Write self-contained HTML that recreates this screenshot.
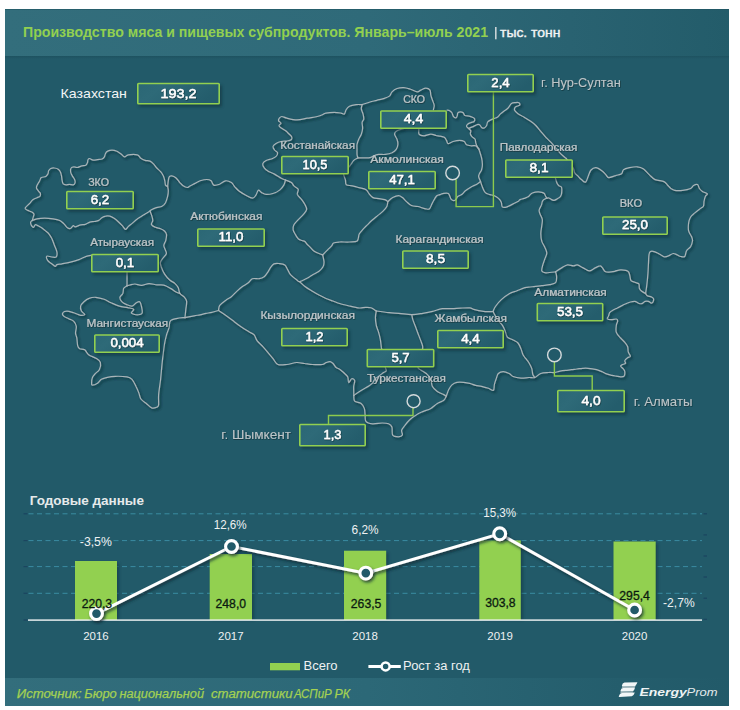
<!DOCTYPE html>
<html><head><meta charset="utf-8"><style>
html,body{margin:0;padding:0;background:#fff;width:740px;height:710px;overflow:hidden}
svg text{font-family:"Liberation Sans", sans-serif}
</style></head><body>
<svg width="740" height="710" viewBox="0 0 740 710" style="position:absolute;left:0;top:0">
<defs>
<linearGradient id="tband" x1="0" y1="0" x2="1" y2="0">
 <stop offset="0" stop-color="#336e7c"/><stop offset="0.5" stop-color="#2f6a79"/><stop offset="0.78" stop-color="#296271"/><stop offset="1" stop-color="#235c6a"/>
</linearGradient>
<linearGradient id="fband" x1="0" y1="0" x2="1" y2="0">
 <stop offset="0" stop-color="#336e7c"/><stop offset="0.5" stop-color="#2c6877"/><stop offset="0.85" stop-color="#245d6c"/><stop offset="1" stop-color="#225a69"/>
</linearGradient>
<linearGradient id="bsh" x1="0" y1="0" x2="0" y2="1"><stop offset="0" stop-color="#1a4c59" stop-opacity="0.55"/><stop offset="1" stop-color="#1a4c59" stop-opacity="0"/></linearGradient>
<linearGradient id="boxg" x1="0" y1="0" x2="1" y2="0.3">
 <stop offset="0" stop-color="#2b6775"/><stop offset="0.3" stop-color="#2e6a78"/><stop offset="1" stop-color="#245d6c"/>
</linearGradient>
<filter id="blur" x="-20%" y="-50%" width="140%" height="200%"><feGaussianBlur stdDeviation="1.5"/></filter>
<filter id="tsh" x="-10%" y="-30%" width="120%" height="160%"><feDropShadow dx="0.6" dy="0.8" stdDeviation="0.4" flood-color="#0a2a33" flood-opacity="0.8"/></filter>
<filter id="msh" x="-5%" y="-5%" width="110%" height="110%"><feDropShadow dx="1.6" dy="1.8" stdDeviation="1.3" flood-color="#0a2730" flood-opacity="0.9"/></filter>
<filter id="lsh" x="-5%" y="-5%" width="110%" height="110%"><feDropShadow dx="1.5" dy="2" stdDeviation="1.5" flood-color="#0a2730" flood-opacity="0.8"/></filter>
</defs>
<rect x="0" y="0" width="740" height="710" fill="#ffffff"/>
<rect x="5" y="9" width="724" height="697" fill="#225a69"/>
<rect x="5" y="56" width="724" height="3" fill="url(#bsh)"/>
<rect x="5" y="9" width="724" height="47" fill="url(#tband)"/>
<rect x="5" y="9" width="724" height="1" fill="#1f5563" opacity="0.6"/>
<rect x="5" y="678" width="724" height="28" fill="url(#fband)"/>
<g font-family='"Liberation Sans", sans-serif'>
<text x="23" y="37" font-size="14.5" fill="#92d050" text-anchor="start" font-weight="bold" font-style="normal" textLength="465" lengthAdjust="spacingAndGlyphs">Производство мяса и пищевых субпродуктов. Январь–июль 2021</text>
<rect x="495" y="27" width="1.6" height="12.3" fill="#c9d3d6"/>
<text x="500" y="37.1" font-size="13.4" fill="#f2f4f5" text-anchor="start" font-weight="normal" font-style="normal" textLength="60.5" lengthAdjust="spacingAndGlyphs" stroke="#f2f4f5" stroke-width="0.4">тыс. тонн</text>
<g id="map" fill="none" stroke="#a8b4b8" stroke-width="1.2" stroke-linejoin="round" stroke-linecap="round" filter="url(#msh)">
<path d="M167.6,186.5 C167.2,186.3 166.0,186.0 165.5,185.1 C165.0,184.2 165.2,182.3 164.8,180.8 C164.5,179.3 164.1,177.4 163.4,175.9 C162.7,174.4 161.8,173.1 160.6,171.7 C159.4,170.3 157.5,168.8 156.3,167.5 C155.1,166.2 154.6,165.0 153.5,163.9 C152.4,162.8 151.4,161.7 150.0,161.1 C148.6,160.5 146.6,160.9 145.1,160.4 C143.6,159.9 142.1,159.2 140.8,158.3 C139.5,157.4 139.4,155.4 137.3,154.8 C135.2,154.2 130.3,154.5 128.2,154.8 C126.1,155.2 125.8,157.0 124.6,156.9 C123.4,156.8 122.4,155.0 121.1,154.1 C119.8,153.2 118.4,152.0 116.9,151.3 C115.4,150.6 113.5,150.1 112.0,150.1 C110.5,150.1 108.8,150.5 107.7,151.1 C106.6,151.7 106.0,152.4 105.5,153.4 C105.0,154.4 105.0,155.9 104.4,156.8 C103.8,157.7 103.2,158.5 102.1,159.0 C101.0,159.5 99.1,159.4 97.6,159.6 C96.1,159.8 94.4,160.3 93.1,160.1 C91.8,159.9 90.5,158.6 89.7,158.5 C88.9,158.4 88.4,158.9 88.0,159.6 C87.6,160.2 87.9,161.5 87.5,162.4 C87.1,163.3 86.8,164.6 85.8,165.2 C84.8,165.8 83.2,165.4 81.8,165.8 C80.4,166.2 78.6,167.3 77.3,167.5 C76.0,167.7 74.9,166.8 73.9,166.9 C72.9,167.0 71.6,167.2 71.1,168.0 C70.5,168.8 70.4,170.7 70.6,172.0 C70.8,173.3 71.6,174.7 72.3,175.9 C73.0,177.1 74.0,178.2 74.5,179.3 C75.0,180.4 75.3,181.8 75.1,182.7 C74.9,183.6 74.4,184.6 73.4,184.9 C72.5,185.2 70.6,184.4 69.4,184.4 C68.2,184.4 67.1,185.0 66.1,184.9 C65.1,184.8 63.9,184.6 63.2,183.8 C62.5,183.1 62.4,181.7 62.1,180.4 C61.8,179.1 61.8,177.3 61.5,175.9 C61.2,174.5 60.9,173.1 60.4,172.0 C59.9,170.9 59.2,169.9 58.2,169.2 C57.2,168.5 55.4,168.1 54.2,168.0 C53.0,167.9 51.7,168.1 50.8,168.6 C49.9,169.1 49.1,170.0 48.6,170.8 C48.1,171.7 48.5,172.8 48.0,173.7 C47.5,174.6 46.9,175.8 45.8,176.5 C44.7,177.2 42.3,176.8 41.3,177.6 C40.3,178.3 40.2,180.0 39.6,181.0 C39.0,182.0 38.4,182.9 37.9,183.8 C37.4,184.7 36.8,185.7 36.6,186.5 C36.4,187.3 36.2,187.6 36.6,188.4 C37.0,189.2 38.1,190.5 38.7,191.3 C39.3,192.2 40.2,192.7 40.4,193.5 C40.6,194.3 40.5,195.7 39.9,196.4 C39.3,197.1 38.2,197.1 37.0,197.7 C35.8,198.3 34.1,198.8 32.8,199.8 C31.5,200.8 30.7,202.2 29.4,203.6 C28.1,205.0 25.4,207.1 25.1,208.2 C24.8,209.3 26.6,209.8 27.7,210.4 C28.8,211.0 30.8,211.4 31.9,212.0 C32.9,212.6 33.8,213.3 34.0,214.2 C34.2,215.0 33.5,216.0 33.2,217.1 C32.9,218.2 32.4,219.9 32.3,220.5"/>
<path d="M32.3,220.5 C33.1,220.2 35.0,219.2 37.0,218.8 C39.0,218.4 41.9,218.1 44.6,218.1 C47.3,218.1 50.5,218.4 53.0,218.8 C55.5,219.2 58.0,219.7 59.8,220.5 C61.6,221.3 62.7,222.7 64.0,223.9 C65.3,225.1 66.3,226.9 67.4,227.7 C68.5,228.5 69.4,228.8 70.4,228.5 C71.4,228.2 72.5,225.9 73.3,225.6 C74.1,225.3 73.9,226.9 75.1,226.8 C76.3,226.7 79.0,225.3 80.7,224.9 C82.4,224.5 83.7,224.9 85.2,224.4 C86.7,223.9 88.2,222.6 89.7,222.1 C91.2,221.6 92.7,221.8 94.2,221.5 C95.7,221.2 97.4,221.1 98.7,220.4 C100.0,219.8 100.9,218.3 102.1,217.6 C103.2,216.9 104.3,216.3 105.6,216.1 C106.9,215.8 108.5,215.8 109.9,216.1 C111.3,216.4 112.7,217.3 114.1,218.2 C115.5,219.1 116.9,220.4 118.3,221.7 C119.7,223.0 121.3,224.6 122.5,225.9 C123.7,227.2 124.5,229.3 125.4,229.4 C126.4,229.5 127.0,227.7 128.2,226.6 C129.4,225.5 130.9,224.4 132.4,223.1 C133.9,221.8 135.9,219.9 137.3,218.9 C138.7,217.9 139.5,217.6 140.8,216.8 C142.1,216.0 143.6,214.9 145.1,213.9 C146.6,212.9 149.2,211.6 150.0,211.1"/>
<path d="M167.6,186.5 C167.7,187.2 168.3,189.1 168.3,190.7 C168.3,192.3 168.1,194.3 167.6,196.3 C167.1,198.3 166.4,201.0 165.5,202.7 C164.6,204.3 163.5,205.4 162.0,206.2 C160.5,207.0 158.1,207.0 156.3,207.6 C154.5,208.2 152.5,209.1 151.4,209.7 C150.3,210.3 150.2,210.9 150.0,211.1"/>
<path d="M167.6,186.5 C167.8,185.0 168.3,179.1 169.0,177.3 C169.7,175.5 170.6,175.8 171.8,175.9 C173.0,176.0 174.8,176.9 176.1,178.0 C177.4,179.1 178.4,181.0 179.6,182.3 C180.8,183.6 181.8,184.9 183.1,185.8 C184.4,186.7 186.2,187.5 187.3,187.5 C188.5,187.5 188.7,186.7 190.0,186.0 C191.3,185.3 193.4,184.3 195.1,183.4 C196.8,182.5 198.1,181.5 200.1,180.8 C202.1,180.2 205.1,179.5 206.9,179.5 C208.7,179.5 210.0,179.9 211.1,180.8 C212.2,181.7 212.3,184.5 213.7,185.1 C215.1,185.7 217.6,184.9 219.6,184.2 C221.6,183.5 223.5,181.1 225.5,180.8 C227.5,180.5 229.8,181.5 231.4,182.5 C233.0,183.5 233.5,185.4 234.8,186.8 C236.1,188.2 237.2,189.6 239.0,191.0 C240.8,192.4 243.6,194.0 245.8,195.2 C248.1,196.4 250.8,198.1 252.5,198.1 C254.2,198.1 254.9,196.5 255.9,195.2 C256.9,193.9 257.4,190.5 258.4,190.1 C259.4,189.7 260.5,192.0 261.8,192.7 C263.1,193.4 264.3,194.3 266.1,194.4 C267.9,194.5 270.6,194.2 272.8,193.5 C275.1,192.8 277.8,191.5 279.6,190.1 C281.4,188.7 282.8,186.8 283.8,185.1 C284.8,183.4 285.2,180.8 285.5,180.0"/>
<path d="M32.3,220.5 C32.0,220.8 30.7,221.3 30.6,222.2 C30.5,223.0 31.0,224.8 31.5,225.6 C32.0,226.4 33.0,227.5 33.6,227.3 C34.2,227.2 34.6,225.0 35.3,224.7 C36.0,224.4 36.7,225.0 37.8,225.6 C38.9,226.2 40.6,227.1 42.0,228.1 C43.4,229.1 45.2,230.6 46.3,231.5 C47.4,232.4 47.6,232.2 48.5,233.4 C49.4,234.6 50.8,236.5 51.8,238.5 C52.8,240.5 53.5,242.9 54.4,245.2 C55.2,247.4 56.6,250.0 56.9,252.0 C57.2,254.0 57.0,256.2 56.1,257.0 C55.2,257.8 53.3,257.1 51.8,257.0 C50.2,256.9 47.5,255.6 46.8,256.2 C46.1,256.8 46.8,259.1 47.6,260.4 C48.4,261.7 50.5,262.8 51.8,263.8 C53.1,264.8 54.4,266.2 55.2,266.3 C56.1,266.4 55.8,265.0 56.9,264.6 C58.0,264.2 59.8,264.2 62.0,263.8 C64.2,263.4 67.6,262.8 70.4,262.1 C73.2,261.4 75.5,260.7 78.9,259.6 C82.3,258.5 85.5,255.7 90.7,255.4 C95.9,255.1 104.0,256.6 110.0,258.0 C116.0,259.4 124.2,261.6 127.0,264.0 C129.8,266.4 127.0,268.7 127.0,272.3 C127.0,275.9 127.0,283.6 127.0,285.8"/>
<path d="M127.0,285.8 C127.5,285.7 128.7,285.3 130.0,285.0 C131.3,284.7 133.1,283.9 135.0,284.0 C136.9,284.1 139.3,285.5 141.6,285.4 C143.9,285.3 146.4,283.7 149.0,283.6 C151.6,283.5 154.5,284.6 157.0,284.8 C159.5,285.1 161.5,284.5 163.8,285.1 C166.1,285.7 168.6,287.3 170.6,288.4 C172.6,289.5 174.0,290.9 175.6,291.8 C177.2,292.7 179.2,293.2 179.9,293.5"/>
<path d="M127.0,285.8 C126.5,286.2 124.4,287.0 123.7,288.3 C123.0,289.6 123.5,291.8 122.8,293.4 C122.1,294.9 119.9,296.2 119.8,297.6 C119.7,299.0 120.9,300.7 122.0,301.8 C123.1,302.9 124.5,303.7 126.2,304.4 C127.9,305.1 130.4,306.4 132.1,306.1 C133.8,305.8 135.0,303.4 136.3,302.7 C137.6,302.0 138.8,301.2 139.7,301.8 C140.5,302.4 141.0,304.3 141.4,306.1 C141.8,307.9 142.5,311.4 142.2,312.8 C141.9,314.2 141.0,314.2 139.7,314.5 C138.4,314.8 136.0,314.8 134.6,314.5 C133.2,314.2 131.4,313.7 131.3,312.8 C131.2,311.9 134.4,310.2 133.8,309.4 C133.2,308.5 130.3,308.2 127.9,307.7 C125.5,307.1 122.2,306.9 119.4,306.1 C116.6,305.3 113.5,303.8 111.0,302.7 C108.5,301.6 106.7,300.2 104.2,299.3 C101.7,298.4 98.3,297.5 95.8,297.3 C93.3,297.1 91.0,297.6 89.0,298.4 C87.0,299.1 85.3,300.5 83.9,301.8 C82.5,303.1 81.0,304.6 80.6,306.1 C80.2,307.7 80.7,309.7 81.4,311.1 C82.1,312.5 84.9,313.8 84.8,314.5 C84.7,315.2 82.4,315.6 80.6,315.3 C78.8,315.0 76.1,313.5 73.8,312.8 C71.5,312.1 68.8,311.1 67.0,311.1 C65.2,311.1 63.3,312.0 62.8,312.8 C62.2,313.6 62.7,315.2 63.7,316.2 C64.7,317.2 67.0,317.8 68.7,318.7 C70.4,319.6 72.5,320.0 73.8,321.3 C75.1,322.6 76.0,324.3 76.3,326.3 C76.6,328.3 75.4,331.2 75.5,333.1 C75.6,335.0 76.4,335.8 76.8,337.9 C77.2,340.0 77.2,344.0 77.7,345.8 C78.2,347.6 78.5,348.1 79.7,348.7 C80.9,349.3 83.2,348.7 84.7,349.7 C86.2,350.7 86.6,353.2 88.6,354.7 C90.6,356.2 94.5,357.3 96.5,358.6 C98.5,359.9 99.9,360.7 100.4,362.5 C100.9,364.3 100.2,367.6 99.4,369.4 C98.6,371.2 96.7,372.1 95.5,373.4 C94.3,374.7 93.2,375.7 92.5,377.3 C91.8,378.9 91.6,381.9 91.6,383.2 C91.6,384.5 91.5,385.2 92.5,385.2 C93.5,385.2 96.0,384.2 97.5,383.2 C99.0,382.2 99.8,380.3 101.4,379.3 C103.0,378.3 105.0,377.8 107.3,377.3 C109.6,376.8 111.9,376.4 115.2,376.3 C118.5,376.2 124.2,376.4 127.0,376.9 C129.8,377.4 130.5,377.8 132.0,379.3 C133.5,380.9 134.8,383.9 135.9,386.2 C137.1,388.5 138.1,391.0 138.9,393.1 C139.7,395.2 139.6,397.2 140.9,399.0 C142.2,400.8 145.0,402.5 146.8,404.0 C148.6,405.5 150.1,407.3 151.7,407.9 C153.3,408.4 155.4,407.8 156.6,407.3 C157.8,406.8 158.3,406.9 158.6,404.9 C158.9,402.9 158.3,399.4 158.6,395.1 C158.9,390.8 159.9,385.2 160.6,379.3 C161.2,373.4 161.8,365.5 162.5,359.6 C163.2,353.7 163.8,347.9 164.5,343.8 C165.2,339.7 165.8,337.6 166.5,335.0 C167.2,332.4 168.2,330.6 168.9,328.2 C169.6,325.8 168.9,322.3 170.6,320.6 C172.3,318.9 176.6,318.5 179.0,318.0 C181.4,317.5 183.9,317.8 184.9,317.7"/>
<path d="M150.0,211.1 C150.2,211.7 150.9,213.1 151.4,214.6 C151.9,216.1 152.8,218.7 152.8,220.3 C152.8,222.0 151.0,223.3 151.4,224.5 C151.8,225.7 154.0,226.6 155.5,227.3 C157.0,228.0 159.1,228.1 160.6,228.7 C162.1,229.3 163.5,230.0 164.5,231.0 C165.5,232.0 166.3,232.9 166.5,234.5 C166.7,236.1 166.2,238.5 165.8,240.3 C165.4,242.1 163.9,243.7 163.8,245.4 C163.8,247.1 165.1,249.0 165.5,250.4 C165.9,251.8 166.7,252.5 166.3,253.8 C165.9,255.1 164.0,256.6 163.0,258.0 C162.0,259.4 160.7,260.8 160.4,262.3 C160.1,263.9 160.6,265.3 161.3,267.3 C162.0,269.3 163.2,272.0 164.6,274.1 C166.0,276.2 168.0,278.4 169.7,280.0 C171.4,281.6 173.4,282.1 174.8,283.4 C176.2,284.7 177.3,285.9 178.2,287.6 C179.0,289.3 178.9,291.9 179.9,293.5 C180.9,295.1 183.0,295.6 184.1,296.9 C185.2,298.2 186.3,299.0 186.6,301.1 C186.9,303.2 186.1,306.8 185.8,309.6 C185.5,312.4 185.1,316.4 184.9,317.7"/>
<path d="M184.9,317.7 C186.4,317.4 191.7,316.3 194.2,315.8 C196.7,315.3 198.0,315.2 200.0,314.8 C202.0,314.4 204.0,313.8 206.0,313.4 C208.0,313.0 209.7,312.8 211.8,312.3 C213.9,311.8 217.4,310.8 218.5,310.5"/>
<path d="M218.5,310.5 C219.7,311.3 223.1,313.4 225.6,315.2 C228.1,317.0 230.9,319.1 233.5,321.1 C236.1,323.1 238.8,325.2 241.4,327.0 C244.0,328.8 247.2,330.7 249.3,332.0 C251.4,333.3 252.9,333.4 254.2,334.9 C255.5,336.4 255.7,338.9 257.2,340.9 C258.7,342.9 261.3,344.8 263.1,346.8 C264.9,348.8 266.4,350.7 268.0,352.7 C269.6,354.7 271.4,356.6 273.0,358.6 C274.6,360.6 275.6,363.5 277.9,364.5 C280.2,365.5 283.7,364.8 286.8,364.5 C289.9,364.2 293.7,362.7 296.6,362.5 C299.6,362.3 301.9,363.2 304.5,363.5 C307.1,363.8 309.4,364.3 312.4,364.5 C315.4,364.7 320.0,364.8 322.3,364.5 C324.6,364.2 324.9,363.0 326.2,362.5 C327.5,362.0 329.0,361.4 330.2,361.6 C331.4,361.8 332.1,362.5 333.1,363.5 C334.1,364.5 335.0,366.5 336.1,367.5 C337.2,368.5 338.7,368.5 340.0,369.4 C341.3,370.3 342.5,371.6 343.8,372.8 C345.1,374.0 346.9,375.2 347.7,376.8 C348.5,378.4 348.0,382.4 348.7,382.7 C349.4,383.0 350.7,379.0 351.7,378.7 C352.7,378.4 354.4,379.4 354.7,380.7 C355.0,382.0 353.8,384.2 353.7,386.6 C353.6,389.1 353.8,393.9 353.8,395.4"/>
<path d="M353.8,395.4 C353.9,396.3 353.4,399.8 354.6,401.1 C355.8,402.5 359.5,402.3 361.1,403.5 C362.7,404.7 363.6,406.5 364.3,408.4 C365.0,410.3 364.8,412.8 365.1,414.9 C365.4,417.0 364.7,419.8 365.9,421.3 C367.1,422.8 369.7,423.5 372.4,423.8 C375.1,424.1 379.5,423.0 382.2,423.0 C384.9,423.0 387.0,423.1 388.6,423.8 C390.2,424.5 391.2,425.1 391.9,427.0 C392.6,428.9 391.6,433.5 392.7,435.1 C393.8,436.7 396.8,436.8 398.4,436.8 C400.0,436.8 401.9,436.2 402.4,435.1 C402.9,434.0 401.2,431.9 401.6,430.3 C402.0,428.7 403.5,427.2 404.9,425.4 C406.2,423.6 407.8,421.4 409.7,419.7 C411.6,417.9 414.0,416.2 416.2,414.9 C418.4,413.5 420.3,412.7 422.7,411.6 C425.1,410.5 428.4,409.8 430.8,408.4 C433.2,407.0 435.1,404.9 437.3,403.5 C439.5,402.1 442.3,401.5 443.8,400.3 C445.3,399.1 445.4,398.0 446.2,396.2 C447.0,394.4 447.7,391.6 448.6,389.7 C449.6,387.8 450.5,386.1 451.9,384.9 C453.3,383.7 454.8,382.8 456.8,382.4 C458.8,382.0 461.7,382.2 463.8,382.4 C465.9,382.6 467.7,382.9 469.7,383.4 C471.7,383.9 473.6,384.9 475.6,385.4 C477.6,385.9 479.5,385.8 481.6,386.3 C483.8,386.8 486.5,387.6 488.5,388.3 C490.5,389.0 492.4,391.0 493.4,390.3 C494.4,389.6 493.9,386.4 494.4,384.4 C494.9,382.4 495.6,380.3 496.3,378.5 C497.0,376.7 497.2,374.6 498.3,373.5 C499.4,372.4 501.4,371.6 503.2,371.6 C505.0,371.6 507.5,372.7 509.2,373.5 C510.9,374.3 511.1,375.7 513.1,376.5 C515.1,377.3 518.4,377.9 521.0,378.1 C523.6,378.3 526.6,377.6 528.9,377.5 C531.2,377.4 532.8,378.2 534.8,377.5 C536.8,376.8 538.4,374.3 540.7,373.5 C543.0,372.7 546.3,372.7 548.6,372.5 C550.9,372.3 552.6,372.7 554.5,372.5 C556.4,372.3 558.1,371.5 560.0,371.1 C561.9,370.8 563.7,370.6 565.6,370.4 C567.5,370.2 569.4,369.9 571.3,369.7 C573.2,369.5 575.0,369.2 576.9,369.0 C578.8,368.8 580.6,368.4 582.5,368.3 C584.4,368.2 585.9,368.1 588.2,368.3 C590.6,368.5 594.2,369.1 596.6,369.7 C599.0,370.3 600.6,371.1 602.3,371.8 C603.9,372.5 604.9,373.3 606.5,373.9 C608.1,374.5 610.5,375.0 612.1,375.4 C613.7,375.8 614.9,375.9 616.3,376.1 C617.7,376.3 619.3,376.8 620.6,376.8 C621.9,376.8 623.4,376.9 624.1,376.1 C624.8,375.3 624.9,373.0 624.8,371.8 C624.7,370.6 624.1,369.9 623.4,369.0 C622.7,368.1 620.8,366.9 620.6,366.2 C620.4,365.5 621.2,365.3 622.0,364.8 C622.8,364.3 625.0,364.1 625.5,363.4 C626.0,362.7 624.4,361.6 624.8,360.6 C625.1,359.7 626.7,358.4 627.6,357.7 C628.5,357.0 630.3,357.2 630.4,356.3 C630.5,355.4 628.8,353.7 628.3,352.1 C627.8,350.5 628.2,348.1 627.6,346.5 C627.0,344.9 626.0,343.7 624.8,342.3 C623.6,340.9 622.0,339.6 620.6,338.0 C619.2,336.4 617.0,334.5 616.3,332.4 C615.6,330.3 616.1,327.3 616.3,325.4 C616.5,323.5 617.7,322.2 617.7,321.1 C617.7,320.0 617.3,319.2 616.3,319.0 C615.2,318.8 612.9,319.7 611.4,319.7 C609.9,319.7 607.8,319.5 607.3,318.9 C606.8,318.3 608.1,317.1 608.5,316.1 C608.9,315.1 609.0,313.6 609.6,312.7 C610.2,311.8 611.2,311.1 612.4,310.4 C613.6,309.6 615.4,308.9 616.9,308.2 C618.4,307.4 619.9,306.6 621.4,305.9 C622.9,305.1 624.4,304.3 625.9,303.7 C627.4,303.1 628.9,302.4 630.4,302.0 C631.9,301.6 633.6,301.2 634.9,301.4 C636.2,301.6 637.2,302.7 638.3,303.1 C639.4,303.5 640.6,304.0 641.7,303.7 C642.8,303.4 644.0,301.8 645.1,301.4 C646.2,301.0 647.5,301.1 648.5,301.4 C649.5,301.7 650.5,303.0 651.3,303.1 C652.0,303.2 652.6,302.8 653.0,302.0 C653.4,301.2 653.8,299.5 653.5,298.6 C653.2,297.8 652.3,297.4 651.3,296.9 C650.3,296.4 648.2,296.4 647.3,295.8 C646.3,295.2 645.9,293.9 645.6,293.5"/>
<path d="M645.6,293.5 C645.8,292.1 646.4,288.4 646.8,285.1 C647.2,281.8 647.6,277.6 647.9,273.8 C648.2,270.0 648.3,265.7 648.5,262.5 C648.7,259.3 648.7,256.4 649.0,254.6 C649.3,252.8 649.4,252.4 650.1,251.8 C650.8,251.2 651.8,251.1 653.0,251.3 C654.2,251.5 656.1,252.3 657.5,253.0 C658.9,253.7 660.2,254.5 661.4,255.2 C662.6,255.8 663.6,256.8 664.8,256.9 C666.0,257.0 667.3,256.4 668.7,255.8 C670.1,255.2 671.9,253.7 673.2,253.5 C674.5,253.3 675.4,254.1 676.6,254.6 C677.9,255.1 679.4,256.2 680.7,256.5 C682.1,256.8 683.7,257.5 684.7,256.5 C685.7,255.5 685.6,252.2 686.6,250.6 C687.6,248.9 689.6,248.2 690.6,246.6 C691.6,244.9 692.3,242.3 692.5,240.7 C692.7,239.1 692.2,238.4 691.6,236.8 C691.0,235.2 689.1,233.2 688.6,230.9 C688.1,228.6 688.3,225.3 688.6,223.0 C688.9,220.7 689.6,218.7 690.6,217.0 C691.6,215.3 693.0,214.4 694.5,213.1 C696.0,211.8 697.9,210.3 699.4,209.2 C700.9,208.0 702.6,207.5 703.4,206.2 C704.2,204.9 703.7,203.0 704.0,201.3 C704.3,199.7 704.9,197.6 705.4,196.3 C705.9,195.1 707.8,194.6 707.3,193.8 C706.8,193.0 703.7,192.3 702.4,191.4 C701.1,190.5 700.2,189.7 699.4,188.5 C698.6,187.3 698.5,185.0 697.5,184.5 C696.5,184.0 694.6,184.8 693.5,185.5 C692.4,186.2 692.4,187.7 690.6,188.5 C688.8,189.3 685.3,190.1 682.7,190.4 C680.1,190.7 676.8,190.7 674.8,190.4 C672.8,190.1 672.0,189.3 670.9,188.5 C669.8,187.7 669.0,186.7 667.9,185.5 C666.8,184.3 666.1,182.6 664.0,181.6 C661.9,180.6 657.6,180.8 655.1,179.6 C652.6,178.4 651.2,176.4 649.2,174.6 C647.2,172.8 645.2,170.0 643.2,168.7 C641.2,167.4 639.6,167.0 637.3,166.8 C635.0,166.6 631.7,167.2 629.4,167.7 C627.1,168.2 624.8,168.7 623.5,169.7 C622.2,170.7 622.9,172.7 621.6,173.7 C620.3,174.7 617.8,174.9 615.6,175.6 C613.5,176.2 610.3,177.8 608.7,177.6 C607.1,177.4 606.9,175.8 605.8,174.6 C604.6,173.4 603.4,171.8 601.8,170.7 C600.1,169.5 597.7,167.8 595.9,167.7 C594.1,167.6 592.3,168.6 591.0,170.0 C589.7,171.4 589.1,174.2 588.2,176.2 C587.3,178.2 586.7,181.5 585.6,182.1 C584.5,182.7 582.7,180.6 581.4,179.6 C580.1,178.6 579.1,177.3 578.0,176.2 C576.9,175.1 575.4,174.2 574.6,172.8 C573.8,171.4 574.4,170.1 573.0,167.7 C571.6,165.3 567.3,159.9 566.2,158.4"/>
<path d="M566.2,158.4 C565.4,157.7 562.8,155.9 561.1,154.2 C559.4,152.5 557.8,150.3 556.1,148.3 C554.4,146.3 552.7,144.2 551.0,142.4 C549.3,140.6 547.6,139.1 545.9,137.3 C544.2,135.5 542.5,133.4 540.8,131.4 C539.1,129.4 537.5,127.2 535.8,125.5 C534.1,123.8 532.7,122.7 530.7,121.3 C528.7,119.9 526.0,118.3 523.9,117.0 C521.8,115.7 519.5,114.8 518.0,113.7 C516.5,112.6 515.0,111.4 514.6,110.3 C514.2,109.2 514.6,107.8 515.5,106.9 C516.4,106.1 519.1,105.9 519.7,105.2 C520.3,104.5 519.6,103.1 518.9,102.7 C518.2,102.3 517.0,102.4 515.7,102.6 C514.5,102.8 512.7,102.7 511.4,103.6 C510.1,104.5 509.4,106.7 508.1,108.0 C506.8,109.3 505.1,110.2 503.8,111.2 C502.5,112.2 501.6,112.9 500.5,113.9 C499.4,114.9 498.5,116.4 497.3,117.2 C496.1,118.0 494.6,118.3 493.5,118.8 C492.4,119.2 491.8,119.4 490.8,119.9 C489.8,120.4 488.3,121.0 487.6,122.0 C486.9,123.0 487.1,124.8 486.5,125.8 C485.9,126.8 485.1,127.7 484.3,128.0 C483.5,128.3 482.4,128.0 481.6,127.4 C480.8,126.9 480.3,125.2 479.5,124.7 C478.7,124.2 478.0,124.3 476.8,124.7 C475.6,125.1 473.8,126.3 472.4,126.9 C471.0,127.5 469.2,128.2 468.6,128.5"/>
<path d="M447.0,110.1 C447.4,110.2 448.9,110.2 449.7,110.7 C450.5,111.2 451.3,111.8 451.9,112.8 C452.5,113.8 452.8,115.8 453.5,116.6 C454.2,117.4 455.6,117.9 456.2,117.7 C456.8,117.5 457.0,116.3 457.3,115.5 C457.6,114.7 457.3,113.4 457.8,112.8 C458.3,112.2 459.6,111.8 460.5,111.8 C461.4,111.8 462.5,112.2 463.2,112.8 C463.9,113.4 463.9,115.0 464.9,115.5 C465.9,116.0 467.9,115.8 469.2,116.1 C470.4,116.4 471.5,116.8 472.4,117.2 C473.3,117.7 474.3,118.1 474.6,118.8 C474.9,119.5 474.7,120.9 474.1,121.5 C473.5,122.1 471.9,122.1 470.8,122.6 C469.7,123.0 468.3,123.6 467.6,124.2 C466.9,124.8 466.3,125.7 466.5,126.4 C466.7,127.1 467.9,127.8 468.6,128.5 C469.3,129.2 470.5,129.8 470.8,130.7 C471.1,131.6 470.1,132.9 470.3,133.9 C470.5,134.9 471.1,135.7 471.9,136.6 C472.7,137.5 474.5,138.3 475.1,139.3 C475.7,140.3 475.4,141.5 475.7,142.6 C476.0,143.7 476.3,144.7 476.8,145.8 C477.3,146.9 478.5,148.6 478.9,149.1"/>
<path d="M433.4,109.6 C433.5,108.9 434.3,107.0 434.2,105.4 C434.1,103.9 433.1,102.0 432.5,100.3 C431.9,98.6 431.2,96.9 430.8,95.2 C430.4,93.5 430.8,91.3 430.0,90.1 C429.2,88.9 427.4,88.1 425.8,88.1 C424.2,88.1 422.1,89.5 420.7,90.1 C419.3,90.7 419.0,91.9 417.3,91.8 C415.6,91.7 412.9,90.0 410.6,89.3 C408.4,88.6 406.1,87.7 403.8,87.6 C401.5,87.5 399.0,87.8 397.0,88.5 C395.0,89.2 393.3,90.5 392.0,91.8 C390.7,93.1 390.8,95.0 389.4,96.1 C388.0,97.2 385.6,97.9 383.5,98.6 C381.4,99.3 379.1,99.7 376.8,100.3 C374.6,100.9 372.4,101.3 370.0,102.0 C367.6,102.7 363.4,104.2 362.1,104.6"/>
<path d="M362.1,104.6 C361.1,104.6 358.3,104.3 356.2,104.6 C354.1,104.9 351.1,105.4 349.4,106.3 C347.7,107.2 346.9,108.4 346.1,109.7 C345.3,111.0 345.2,113.3 344.4,113.9 C343.5,114.5 342.7,113.4 341.0,113.1 C339.3,112.8 336.7,112.3 334.2,112.3 C331.7,112.3 327.8,112.7 325.8,113.1 C323.8,113.5 323.8,114.2 322.4,114.8 C321.0,115.4 319.8,115.9 317.3,116.5 C314.8,117.1 310.6,117.6 307.2,118.2 C303.8,118.8 300.4,119.9 297.0,119.9 C293.6,119.9 289.4,118.8 286.9,118.2 C284.4,117.6 283.1,116.5 281.8,116.5 C280.5,116.5 279.9,117.5 279.3,118.2 C278.8,118.9 278.2,119.9 278.5,120.7 C278.8,121.5 280.9,122.4 281.0,123.2 C281.1,124.0 278.8,124.9 279.0,125.8 C279.2,126.7 280.8,127.6 282.0,128.5 C283.2,129.4 285.0,130.2 286.0,131.0 C287.0,131.8 287.1,132.1 288.0,133.0 C288.9,133.9 290.9,135.4 291.5,136.5 C292.1,137.6 292.2,138.8 291.5,139.5 C290.8,140.2 288.8,140.7 287.0,141.0 C285.2,141.3 282.8,141.1 281.0,141.5 C279.2,141.9 277.3,142.7 276.0,143.5 C274.7,144.3 273.2,145.4 273.0,146.5 C272.8,147.6 273.8,149.0 274.5,150.0 C275.2,151.0 277.2,151.5 277.5,152.5 C277.8,153.5 277.3,155.0 276.5,156.0 C275.7,157.0 274.2,157.7 272.5,158.5 C270.8,159.3 267.7,159.7 266.1,160.6 C264.5,161.5 263.0,162.6 262.7,163.9 C262.4,165.2 263.4,166.9 264.4,168.2 C265.4,169.5 266.9,170.5 268.6,171.5 C270.3,172.5 272.4,173.0 274.5,174.1 C276.6,175.2 279.5,177.3 281.3,178.3 C283.1,179.3 284.8,179.7 285.5,180.0"/>
<path d="M285.5,180.0 C286.5,180.4 290.0,181.5 291.4,182.5 C292.8,183.5 292.8,184.8 293.9,185.9 C295.0,187.0 297.6,187.9 298.2,189.3 C298.8,190.7 296.8,192.7 297.3,194.4 C297.9,196.1 300.2,197.7 301.5,199.4 C302.8,201.1 304.0,202.8 304.9,204.5 C305.8,206.2 306.9,207.9 306.6,209.6 C306.3,211.3 304.6,212.9 303.2,214.6 C301.8,216.3 299.8,218.0 298.2,219.7 C296.6,221.4 294.8,223.1 293.9,224.8 C293.0,226.5 292.8,228.2 293.1,229.9 C293.4,231.6 294.7,233.4 295.6,234.9 C296.5,236.4 297.4,238.1 298.5,239.0 C299.6,239.9 300.9,240.1 302.0,240.5 C303.1,240.9 304.1,240.9 304.9,241.5 C305.7,242.1 306.1,243.1 306.9,244.0 C307.7,244.9 308.8,245.8 309.9,246.9 C311.0,248.1 312.2,249.8 313.8,250.9 C315.4,252.1 318.2,253.2 319.7,253.8 C321.2,254.5 322.2,254.6 322.7,254.8"/>
<path d="M322.7,254.8 C323.5,254.0 326.1,251.4 327.6,249.9 C329.1,248.4 330.6,247.1 331.6,245.9 C332.6,244.8 332.2,243.7 333.5,243.0 C334.8,242.3 336.8,242.2 339.4,242.0 C342.0,241.8 346.3,242.2 349.3,242.0 C352.3,241.8 355.6,242.3 357.2,241.0 C358.8,239.7 358.2,236.1 359.2,234.1 C360.2,232.1 361.8,230.7 363.1,229.2 C364.4,227.7 365.5,226.7 367.0,225.2 C368.5,223.7 370.2,221.9 372.0,220.3 C373.8,218.7 376.1,216.9 377.9,215.4 C379.7,213.9 381.3,212.9 382.8,211.4 C384.3,209.9 386.0,208.1 386.8,206.5 C387.6,204.9 387.6,202.4 387.8,201.6"/>
<path d="M322.7,254.8 C322.9,256.0 323.9,259.8 324.0,261.8 C324.1,263.8 323.8,265.2 323.0,266.8 C322.2,268.4 320.8,269.8 319.0,271.2 C317.2,272.6 314.2,273.9 312.0,275.2 C309.8,276.5 308.1,277.7 306.0,278.8 C303.9,279.9 301.2,281.6 299.6,281.7 C298.0,281.8 298.1,280.8 296.6,279.7 C295.1,278.6 292.2,276.4 290.7,274.8 C289.2,273.2 288.8,271.5 287.8,269.9 C286.8,268.2 286.3,266.0 284.8,264.9 C283.3,263.8 280.7,263.7 278.9,263.5 C277.1,263.3 275.2,263.3 273.9,263.9 C272.6,264.5 272.0,265.6 271.0,266.9 C270.0,268.2 269.1,270.1 268.0,271.8 C266.9,273.5 265.6,275.7 264.1,276.8 C262.6,277.9 261.2,278.4 259.2,278.7 C257.2,279.0 254.1,278.0 252.3,278.7 C250.5,279.4 250.0,281.4 248.3,282.7 C246.7,284.0 244.4,285.1 242.4,286.6 C240.4,288.1 238.3,290.0 236.5,291.6 C234.7,293.2 233.4,295.0 231.6,296.5 C229.8,298.0 227.6,298.9 225.6,300.4 C223.6,301.9 220.9,303.7 219.7,305.4 C218.5,307.1 218.7,309.6 218.5,310.5"/>
<path d="M299.6,281.7 C300.5,282.5 302.9,284.9 305.0,286.5 C307.1,288.1 309.7,289.6 312.0,291.0 C314.3,292.4 316.7,293.8 319.0,295.0 C321.3,296.2 323.7,297.5 326.0,298.5 C328.3,299.5 330.7,300.2 333.0,301.0 C335.3,301.8 336.9,302.7 339.7,303.5 C342.4,304.3 346.2,305.2 349.5,306.0 C352.8,306.8 356.8,307.8 359.4,308.0 C362.0,308.2 363.4,307.4 365.3,307.4 C367.2,307.4 369.2,307.2 371.0,307.8 C372.8,308.4 375.4,310.5 376.3,311.0"/>
<path d="M376.3,311.0 C378.4,311.3 385.4,312.3 389.2,312.7 C393.0,313.1 395.2,313.0 399.0,313.3 C402.8,313.6 407.9,314.7 411.8,314.7 C415.8,314.7 419.2,313.9 422.7,313.3 C426.1,312.7 429.2,312.1 432.5,311.3 C435.8,310.5 439.1,309.1 442.4,308.7 C445.7,308.3 449.3,308.8 452.3,308.7 C455.3,308.6 457.2,308.2 460.2,308.1 C463.1,308.0 467.8,307.7 470.0,307.9 C472.2,308.1 471.4,308.8 473.7,309.4 C475.9,310.0 480.3,311.0 483.5,311.4 C486.7,311.8 491.4,311.5 493.0,311.5"/>
<path d="M376.3,311.0 C376.1,312.1 375.4,315.2 375.4,317.6 C375.4,320.0 375.8,323.2 376.3,325.5 C376.8,327.8 377.6,329.1 378.3,331.4 C379.0,333.7 379.8,336.7 380.3,339.3 C380.8,341.9 380.9,344.2 381.3,347.2 C381.8,350.1 382.4,353.7 383.0,357.0 C383.6,360.3 384.7,364.6 385.2,366.9 C385.7,369.2 386.5,369.9 386.2,370.9 C385.9,371.9 385.0,371.5 383.2,372.8 C381.4,374.1 377.2,377.0 375.4,378.7 C373.6,380.4 373.4,382.0 372.4,383.2 C371.4,384.4 371.1,384.5 369.2,385.7 C367.3,386.9 363.7,388.9 361.1,390.5 C358.5,392.1 355.0,394.6 353.8,395.4"/>
<path d="M411.8,314.7 C412.0,315.5 412.1,317.5 412.8,319.6 C413.5,321.7 414.8,324.9 415.8,327.5 C416.8,330.1 417.7,332.8 418.7,335.4 C419.7,338.0 421.0,341.1 421.7,343.2 C422.4,345.3 423.0,345.9 422.7,348.2 C422.4,350.5 420.8,353.9 420.0,357.0 C419.2,360.1 417.7,364.8 417.8,366.9 C417.9,369.0 419.2,368.8 420.7,369.9 C422.2,371.0 425.0,372.3 426.6,373.8 C428.2,375.3 429.6,376.6 430.6,378.7 C431.6,380.8 431.3,384.4 432.4,386.5 C433.5,388.6 435.4,390.0 437.3,391.4 C439.2,392.8 442.3,393.8 443.8,394.6 C445.3,395.4 445.8,395.9 446.2,396.2"/>
<path d="M493.0,311.5 C493.7,312.8 495.8,317.0 497.3,319.3 C498.9,321.6 501.0,323.2 502.3,325.2 C503.6,327.2 504.4,329.1 505.2,331.1 C506.0,333.1 505.9,335.5 507.2,337.0 C508.5,338.5 511.3,339.0 513.1,340.0 C514.9,341.0 516.7,341.5 518.0,343.0 C519.3,344.5 520.2,346.9 521.0,348.9 C521.8,350.9 522.2,353.2 523.0,354.8 C523.8,356.4 524.9,357.4 525.9,358.7 C526.9,360.0 527.9,361.0 528.9,362.7 C529.9,364.4 531.1,366.6 531.8,368.6 C532.4,370.6 532.3,373.0 532.8,374.5 C533.3,376.0 534.5,377.0 534.8,377.5"/>
<path d="M493.0,311.5 C493.4,310.7 494.0,308.5 495.4,306.5 C496.8,304.5 499.0,301.7 501.3,299.6 C503.6,297.5 506.6,295.2 509.2,293.7 C511.8,292.2 514.4,291.7 517.0,290.7 C519.6,289.7 522.7,288.3 524.9,287.7 C527.1,287.1 528.5,287.2 530.0,287.0 C531.5,286.8 531.9,286.8 533.9,286.6 C535.9,286.4 539.2,285.9 541.8,285.6 C544.4,285.3 547.4,285.2 549.7,284.7 C552.0,284.2 554.5,284.0 555.6,282.7 C556.8,281.4 556.6,278.6 556.6,276.8 C556.6,275.0 555.8,272.6 555.6,271.8"/>
<path d="M555.6,271.8 C554.0,272.0 548.1,273.0 545.8,272.8 C543.5,272.6 542.3,272.2 541.8,270.9 C541.3,269.6 542.3,266.9 542.8,264.9 C543.3,262.9 544.1,261.0 544.8,259.0 C545.5,257.0 546.8,255.1 546.8,253.1 C546.8,251.1 545.6,249.2 544.8,247.2 C544.0,245.2 542.5,243.6 541.8,241.3 C541.1,239.0 540.8,236.0 540.8,233.4 C540.8,230.8 541.5,227.8 541.8,225.5 C542.0,223.2 542.6,221.4 542.3,219.5 C542.0,217.6 540.4,215.3 539.9,213.8 C539.4,212.3 539.1,211.6 539.1,210.6 C539.1,209.6 539.5,209.0 539.9,208.1 C540.3,207.2 541.1,206.0 541.5,204.9 C541.9,203.8 541.9,202.5 542.3,201.6 C542.7,200.7 543.1,200.2 543.9,199.6 C544.6,199.0 546.3,198.4 546.8,198.2"/>
<path d="M555.6,271.8 C556.6,271.1 559.6,269.0 561.6,267.9 C563.6,266.8 565.5,265.2 567.5,264.9 C569.5,264.6 571.8,265.9 573.4,265.9 C575.0,265.9 575.7,264.6 577.3,264.9 C578.9,265.2 581.2,266.9 583.2,267.9 C585.2,268.9 587.2,270.9 589.2,270.9 C591.2,270.9 593.3,268.7 595.1,267.9 C596.9,267.1 598.8,265.9 600.0,265.9 C601.2,265.8 601.4,266.7 602.3,267.6 C603.1,268.5 604.0,270.8 605.1,271.5 C606.2,272.2 607.4,272.1 609.0,272.1 C610.6,272.1 612.7,271.7 614.6,271.3 C616.5,270.9 618.4,270.0 620.3,269.9 C622.2,269.8 624.5,270.0 625.9,270.4 C627.3,270.8 628.0,271.2 628.7,272.1 C629.4,273.1 629.5,274.7 629.9,276.1 C630.3,277.5 630.2,279.6 631.0,280.6 C631.8,281.6 633.6,281.8 634.9,282.3 C636.2,282.9 638.1,282.9 638.9,283.9 C639.6,284.9 638.9,287.3 639.4,288.5 C639.9,289.7 640.7,290.5 641.7,291.3 C642.7,292.1 645.0,293.1 645.6,293.5"/>
<path d="M555.3,177.7 C555.4,178.2 555.8,179.5 556.1,180.5 C556.4,181.5 556.8,182.9 557.3,183.8 C557.8,184.7 558.2,185.3 558.9,185.8 C559.6,186.3 560.9,186.2 561.4,187.0 C561.9,187.8 561.8,189.1 561.8,190.3 C561.8,191.5 561.7,193.2 561.4,194.3 C561.1,195.4 560.8,196.1 560.1,196.8 C559.4,197.6 558.3,198.2 557.3,198.8 C556.3,199.4 555.0,200.3 554.1,200.4 C553.2,200.5 552.5,200.0 551.6,199.6 C550.7,199.2 549.6,198.2 548.8,198.0 C548.0,197.8 547.1,198.2 546.8,198.2"/>
<path d="M480.5,181.4 C480.8,182.3 481.6,185.1 482.4,187.0 C483.2,188.9 484.0,191.4 485.3,192.7 C486.6,194.0 488.6,194.1 490.0,194.6 C491.4,195.1 492.4,194.9 493.8,195.5 C495.2,196.1 497.2,197.3 498.5,198.4 C499.8,199.5 500.7,200.8 501.3,202.2 C501.9,203.6 501.4,206.1 502.3,206.9 C503.2,207.7 505.3,207.4 507.0,206.9 C508.7,206.4 510.8,205.1 512.7,204.1 C514.6,203.1 517.2,201.9 518.4,201.2 C519.6,200.4 519.0,200.1 520.0,199.6 C521.0,199.1 522.8,198.9 524.1,198.4 C525.5,197.9 527.0,197.5 528.1,196.8 C529.2,196.1 529.7,195.0 530.5,194.3 C531.3,193.6 531.8,193.1 533.0,192.7 C534.2,192.3 536.3,192.0 537.8,191.9 C539.3,191.8 540.8,192.0 541.9,192.3 C543.0,192.6 543.7,192.9 544.3,193.5 C544.9,194.1 545.1,195.2 545.5,196.0 C545.9,196.8 546.6,197.8 546.8,198.2"/>
<path d="M478.9,149.1 C479.3,150.5 480.9,155.1 481.5,157.7 C482.1,160.3 482.4,162.4 482.4,164.5 C482.4,166.6 482.0,168.5 481.5,170.0 C481.0,171.5 480.0,172.4 479.5,173.5 C479.0,174.6 478.4,175.3 478.6,176.6 C478.8,177.9 480.2,180.6 480.5,181.4"/>
<path d="M419.0,128.0 C419.0,129.0 418.1,132.8 419.0,134.1 C419.9,135.4 422.1,135.8 424.1,135.8 C426.1,135.8 428.8,134.2 430.8,134.1 C432.8,134.0 434.5,135.2 436.0,135.5 C437.5,135.8 438.6,135.8 440.0,136.1 C441.4,136.4 443.2,136.5 444.3,137.2 C445.4,137.9 445.9,139.3 446.5,140.4 C447.1,141.5 447.0,143.4 448.1,143.6 C449.2,143.8 451.1,142.0 453.0,141.5 C454.9,141.0 457.6,140.4 459.5,140.4 C461.4,140.4 463.1,140.8 464.3,141.5 C465.5,142.2 465.3,144.0 466.5,144.7 C467.7,145.4 469.9,145.6 471.4,145.8 C472.9,146.0 474.4,145.2 475.7,145.8 C476.9,146.4 478.4,148.6 478.9,149.1"/>
<path d="M362.1,104.6 C362.0,105.3 361.2,107.4 361.3,108.9 C361.4,110.5 362.6,112.2 363.0,113.9 C363.4,115.6 363.9,117.6 363.8,119.0 C363.7,120.4 362.3,120.9 362.1,122.4 C361.9,124.0 362.7,126.3 362.6,128.3 C362.5,130.3 362.0,132.4 361.3,134.2 C360.6,136.0 359.4,137.6 358.7,139.3 C358.0,141.0 357.3,142.7 357.0,144.4 C356.7,146.1 357.0,147.7 357.0,149.4 C357.0,151.1 356.9,153.1 357.0,154.5 C357.1,155.9 357.8,157.3 357.9,157.9"/>
<path d="M357.9,157.9 C359.0,157.9 362.6,157.9 364.6,157.9 C366.6,157.9 368.5,158.0 370.0,157.7 C371.5,157.4 372.0,156.6 373.4,156.0 C374.8,155.4 376.5,154.7 378.5,154.4 C380.5,154.1 382.9,154.7 385.2,154.4 C387.4,154.1 390.2,153.5 392.0,152.7 C393.8,151.8 395.2,150.7 396.2,149.3 C397.2,147.9 397.8,145.9 397.9,144.2 C398.0,142.5 397.6,140.9 397.0,139.2 C396.4,137.5 394.5,135.5 394.5,134.1 C394.5,132.7 395.4,131.6 397.0,130.7 C398.6,129.8 402.7,128.9 403.8,128.5"/>
<path d="M357.9,157.9 C357.2,158.3 355.1,159.0 353.7,160.4 C352.3,161.8 351.0,164.5 349.4,166.3 C347.8,168.1 345.0,169.7 344.0,171.0 C343.0,172.3 343.2,172.4 343.4,173.9 C343.6,175.4 344.9,178.1 345.4,179.9 C345.9,181.7 345.1,183.8 346.3,184.8 C347.5,185.8 350.2,185.3 352.3,185.8 C354.4,186.3 356.9,187.0 359.2,187.7 C361.5,188.3 364.5,188.7 366.1,189.7 C367.7,190.7 367.9,192.4 369.0,193.7 C370.1,195.0 371.4,196.8 373.0,197.6 C374.6,198.4 376.9,198.3 378.9,198.6 C380.9,198.9 383.3,199.1 384.8,199.6 C386.3,200.1 387.3,201.3 387.8,201.6"/>
<path d="M387.8,201.6 C388.6,200.9 390.9,198.6 392.7,197.6 C394.5,196.6 397.0,195.6 398.6,195.6 C400.2,195.6 401.2,196.6 402.5,197.6 C403.8,198.6 405.0,200.3 406.5,201.6 C408.0,202.9 409.4,204.7 411.4,205.5 C413.4,206.3 416.7,206.2 418.3,206.5 C419.9,206.8 419.8,207.1 421.0,207.5 C422.2,207.9 424.3,208.6 425.7,208.8 C427.1,209.0 428.4,209.8 429.5,208.8 C430.6,207.9 431.1,205.2 432.3,203.1 C433.5,201.0 435.2,197.4 436.5,196.0 C437.8,194.6 439.0,195.0 440.0,194.6 C441.0,194.2 441.3,193.8 442.7,193.6 C444.1,193.4 447.0,192.6 448.4,193.6 C449.8,194.6 450.1,198.2 451.2,199.3 C452.3,200.4 453.9,200.8 455.0,200.3 C456.1,199.8 456.7,197.4 457.8,196.5 C458.9,195.6 460.3,195.5 461.6,194.6 C462.9,193.7 463.8,192.1 465.4,190.8 C467.0,189.5 469.2,188.1 471.1,187.0 C473.0,185.9 475.2,185.1 476.8,184.2 C478.4,183.3 479.9,181.9 480.5,181.4"/>
</g>
<text x="60.6" y="97.8" font-size="12.8" fill="#f3f5f6" text-anchor="start" font-weight="normal" font-style="normal" textLength="66.3" lengthAdjust="spacingAndGlyphs">Казахстан</text>
<rect x="139" y="85.2" width="83" height="21.799999999999997" fill="#0d2f38" opacity="0.55" filter="url(#blur)"/>
<rect x="137.8" y="83.5" width="81.4" height="20.199999999999996" rx="0.8" fill="url(#boxg)" stroke="#92d050" stroke-width="1.6"/>
<text x="178.5" y="98.0" font-size="13.3" fill="#ffffff" text-anchor="middle" font-weight="normal" font-style="normal" textLength="36" lengthAdjust="spacingAndGlyphs" stroke="#ffffff" stroke-width="0.45" filter="url(#tsh)">193,2</text>
<text x="88.2" y="186" font-size="10.6" fill="#bcc5c8" text-anchor="start" font-weight="normal" font-style="normal" textLength="20.8" lengthAdjust="spacingAndGlyphs" stroke="#bcc5c8" stroke-width="0.2" filter="url(#tsh)">ЗКО</text>
<text x="90.2" y="246" font-size="10.6" fill="#bcc5c8" text-anchor="start" font-weight="normal" font-style="normal" textLength="63.8" lengthAdjust="spacingAndGlyphs" stroke="#bcc5c8" stroke-width="0.2" filter="url(#tsh)">Атырауская</text>
<text x="86.5" y="326.9" font-size="10.6" fill="#bcc5c8" text-anchor="start" font-weight="normal" font-style="normal" textLength="81.7" lengthAdjust="spacingAndGlyphs" stroke="#bcc5c8" stroke-width="0.2" filter="url(#tsh)">Мангистауская</text>
<text x="190.3" y="219.8" font-size="10.6" fill="#bcc5c8" text-anchor="start" font-weight="normal" font-style="normal" textLength="72.1" lengthAdjust="spacingAndGlyphs" stroke="#bcc5c8" stroke-width="0.2" filter="url(#tsh)">Актюбинская</text>
<text x="280.3" y="148.6" font-size="10.6" fill="#bcc5c8" text-anchor="start" font-weight="normal" font-style="normal" textLength="74.7" lengthAdjust="spacingAndGlyphs" stroke="#bcc5c8" stroke-width="0.2" filter="url(#tsh)">Костанайская</text>
<text x="403.2" y="102.9" font-size="10.6" fill="#bcc5c8" text-anchor="start" font-weight="normal" font-style="normal" textLength="21.8" lengthAdjust="spacingAndGlyphs" stroke="#bcc5c8" stroke-width="0.2" filter="url(#tsh)">СКО</text>
<text x="370.3" y="162.7" font-size="10.6" fill="#bcc5c8" text-anchor="start" font-weight="normal" font-style="normal" textLength="73.5" lengthAdjust="spacingAndGlyphs" stroke="#bcc5c8" stroke-width="0.2" filter="url(#tsh)">Акмолинская</text>
<text x="499.8" y="151" font-size="10.6" fill="#bcc5c8" text-anchor="start" font-weight="normal" font-style="normal" textLength="77.5" lengthAdjust="spacingAndGlyphs" stroke="#bcc5c8" stroke-width="0.2" filter="url(#tsh)">Павлодарская</text>
<text x="619.7" y="207" font-size="10.6" fill="#bcc5c8" text-anchor="start" font-weight="normal" font-style="normal" textLength="22.3" lengthAdjust="spacingAndGlyphs" stroke="#bcc5c8" stroke-width="0.2" filter="url(#tsh)">ВКО</text>
<text x="395.5" y="243.1" font-size="10.6" fill="#bcc5c8" text-anchor="start" font-weight="normal" font-style="normal" textLength="88.2" lengthAdjust="spacingAndGlyphs" stroke="#bcc5c8" stroke-width="0.2" filter="url(#tsh)">Карагандинская</text>
<text x="260.4" y="319.3" font-size="10.6" fill="#bcc5c8" text-anchor="start" font-weight="normal" font-style="normal" textLength="94.6" lengthAdjust="spacingAndGlyphs" stroke="#bcc5c8" stroke-width="0.2" filter="url(#tsh)">Кызылординская</text>
<text x="434.6" y="321.6" font-size="10.6" fill="#bcc5c8" text-anchor="start" font-weight="normal" font-style="normal" textLength="72.4" lengthAdjust="spacingAndGlyphs" stroke="#bcc5c8" stroke-width="0.2" filter="url(#tsh)">Жамбылская</text>
<text x="534.3" y="296.2" font-size="10.6" fill="#bcc5c8" text-anchor="start" font-weight="normal" font-style="normal" textLength="72.5" lengthAdjust="spacingAndGlyphs" stroke="#bcc5c8" stroke-width="0.2" filter="url(#tsh)">Алматинская</text>
<text x="366.9" y="382.1" font-size="10.6" fill="#bcc5c8" text-anchor="start" font-weight="normal" font-style="normal" textLength="79.1" lengthAdjust="spacingAndGlyphs" stroke="#bcc5c8" stroke-width="0.2" filter="url(#tsh)">Туркестанская</text>
<g fill="none" stroke="#8dcb4d" stroke-width="1.4">
<polyline points="456.1,179.2 456.1,206.6 493.4,206.6 493.4,92"/>
<polyline points="554.4,362 554.4,376 592.2,376 592.2,390"/>
<polyline points="413,408 413,415.5 328.5,415.5 328.5,424"/>
</g>
<g fill="none" stroke="#d4dadc" stroke-width="1.4">
<circle cx="452.6" cy="173" r="6.8"/>
<circle cx="554.4" cy="354.9" r="6.8"/>
<circle cx="413.6" cy="401.2" r="6.5"/>
</g>
<rect x="68" y="193.2" width="68" height="18.80000000000001" fill="#0d2f38" opacity="0.55" filter="url(#blur)"/>
<rect x="66.8" y="191.5" width="66.4" height="17.20000000000001" rx="0.8" fill="url(#boxg)" stroke="#92d050" stroke-width="1.6"/>
<text x="100.0" y="203.79999999999998" font-size="13.3" fill="#ffffff" text-anchor="middle" font-weight="normal" font-style="normal" textLength="18.6" lengthAdjust="spacingAndGlyphs" stroke="#ffffff" stroke-width="0.45" filter="url(#tsh)">6,2</text>
<rect x="93" y="256.2" width="68" height="18.80000000000001" fill="#0d2f38" opacity="0.55" filter="url(#blur)"/>
<rect x="91.8" y="254.5" width="66.4" height="17.20000000000001" rx="0.8" fill="url(#boxg)" stroke="#92d050" stroke-width="1.6"/>
<text x="125.0" y="266.8" font-size="13.3" fill="#ffffff" text-anchor="middle" font-weight="normal" font-style="normal" textLength="18.6" lengthAdjust="spacingAndGlyphs" stroke="#ffffff" stroke-width="0.45" filter="url(#tsh)">0,1</text>
<rect x="96" y="336.7" width="66" height="18.80000000000001" fill="#0d2f38" opacity="0.55" filter="url(#blur)"/>
<rect x="94.8" y="335.0" width="64.4" height="17.20000000000001" rx="0.8" fill="url(#boxg)" stroke="#92d050" stroke-width="1.6"/>
<text x="127.0" y="347.3" font-size="13.3" fill="#ffffff" text-anchor="middle" font-weight="normal" font-style="normal" textLength="33.2" lengthAdjust="spacingAndGlyphs" stroke="#ffffff" stroke-width="0.45" filter="url(#tsh)">0,004</text>
<rect x="199" y="230.7" width="68" height="18.80000000000001" fill="#0d2f38" opacity="0.55" filter="url(#blur)"/>
<rect x="197.8" y="229.0" width="66.4" height="17.20000000000001" rx="0.8" fill="url(#boxg)" stroke="#92d050" stroke-width="1.6"/>
<text x="231.0" y="241.29999999999998" font-size="13.3" fill="#ffffff" text-anchor="middle" font-weight="normal" font-style="normal" textLength="24.9" lengthAdjust="spacingAndGlyphs" stroke="#ffffff" stroke-width="0.45" filter="url(#tsh)">11,0</text>
<rect x="283" y="158.2" width="68" height="18.80000000000001" fill="#0d2f38" opacity="0.55" filter="url(#blur)"/>
<rect x="281.8" y="156.5" width="66.4" height="17.20000000000001" rx="0.8" fill="url(#boxg)" stroke="#92d050" stroke-width="1.6"/>
<text x="315.0" y="168.79999999999998" font-size="13.3" fill="#ffffff" text-anchor="middle" font-weight="normal" font-style="normal" textLength="24.8" lengthAdjust="spacingAndGlyphs" stroke="#ffffff" stroke-width="0.45" filter="url(#tsh)">10,5</text>
<rect x="382" y="112.7" width="67" height="18.799999999999997" fill="#0d2f38" opacity="0.55" filter="url(#blur)"/>
<rect x="380.8" y="111.0" width="65.4" height="17.199999999999996" rx="0.8" fill="url(#boxg)" stroke="#92d050" stroke-width="1.6"/>
<text x="413.5" y="123.3" font-size="13.3" fill="#ffffff" text-anchor="middle" font-weight="normal" font-style="normal" textLength="19.4" lengthAdjust="spacingAndGlyphs" stroke="#ffffff" stroke-width="0.45" filter="url(#tsh)">4,4</text>
<rect x="370" y="173.2" width="68" height="18.80000000000001" fill="#0d2f38" opacity="0.55" filter="url(#blur)"/>
<rect x="368.8" y="171.5" width="66.4" height="17.20000000000001" rx="0.8" fill="url(#boxg)" stroke="#92d050" stroke-width="1.6"/>
<text x="402.0" y="183.79999999999998" font-size="13.3" fill="#ffffff" text-anchor="middle" font-weight="normal" font-style="normal" textLength="25.6" lengthAdjust="spacingAndGlyphs" stroke="#ffffff" stroke-width="0.45" filter="url(#tsh)">47,1</text>
<rect x="507" y="161.7" width="68" height="18.80000000000001" fill="#0d2f38" opacity="0.55" filter="url(#blur)"/>
<rect x="505.8" y="160.0" width="66.4" height="17.20000000000001" rx="0.8" fill="url(#boxg)" stroke="#92d050" stroke-width="1.6"/>
<text x="539.0" y="172.29999999999998" font-size="13.3" fill="#ffffff" text-anchor="middle" font-weight="normal" font-style="normal" textLength="19" lengthAdjust="spacingAndGlyphs" stroke="#ffffff" stroke-width="0.45" filter="url(#tsh)">8,1</text>
<rect x="604" y="218.7" width="66" height="18.80000000000001" fill="#0d2f38" opacity="0.55" filter="url(#blur)"/>
<rect x="602.8" y="217.0" width="64.4" height="17.20000000000001" rx="0.8" fill="url(#boxg)" stroke="#92d050" stroke-width="1.6"/>
<text x="635.0" y="229.29999999999998" font-size="13.3" fill="#ffffff" text-anchor="middle" font-weight="normal" font-style="normal" textLength="25.9" lengthAdjust="spacingAndGlyphs" stroke="#ffffff" stroke-width="0.45" filter="url(#tsh)">25,0</text>
<rect x="404" y="252.7" width="67" height="18.80000000000001" fill="#0d2f38" opacity="0.55" filter="url(#blur)"/>
<rect x="402.8" y="251.0" width="65.4" height="17.20000000000001" rx="0.8" fill="url(#boxg)" stroke="#92d050" stroke-width="1.6"/>
<text x="435.5" y="263.3" font-size="13.3" fill="#ffffff" text-anchor="middle" font-weight="normal" font-style="normal" textLength="19" lengthAdjust="spacingAndGlyphs" stroke="#ffffff" stroke-width="0.45" filter="url(#tsh)">8,5</text>
<rect x="283" y="330.2" width="67" height="18.80000000000001" fill="#0d2f38" opacity="0.55" filter="url(#blur)"/>
<rect x="281.8" y="328.5" width="65.4" height="17.20000000000001" rx="0.8" fill="url(#boxg)" stroke="#92d050" stroke-width="1.6"/>
<text x="314.5" y="340.8" font-size="13.3" fill="#ffffff" text-anchor="middle" font-weight="normal" font-style="normal" textLength="18" lengthAdjust="spacingAndGlyphs" stroke="#ffffff" stroke-width="0.45" filter="url(#tsh)">1,2</text>
<rect x="439" y="332.2" width="67" height="18.80000000000001" fill="#0d2f38" opacity="0.55" filter="url(#blur)"/>
<rect x="437.8" y="330.5" width="65.4" height="17.20000000000001" rx="0.8" fill="url(#boxg)" stroke="#92d050" stroke-width="1.6"/>
<text x="470.5" y="342.8" font-size="13.3" fill="#ffffff" text-anchor="middle" font-weight="normal" font-style="normal" textLength="18.7" lengthAdjust="spacingAndGlyphs" stroke="#ffffff" stroke-width="0.45" filter="url(#tsh)">4,4</text>
<rect x="368.5" y="351.2" width="68.0" height="18.80000000000001" fill="#0d2f38" opacity="0.55" filter="url(#blur)"/>
<rect x="367.3" y="349.5" width="66.4" height="17.20000000000001" rx="0.8" fill="url(#boxg)" stroke="#92d050" stroke-width="1.6"/>
<text x="400.5" y="361.8" font-size="13.3" fill="#ffffff" text-anchor="middle" font-weight="normal" font-style="normal" textLength="18.2" lengthAdjust="spacingAndGlyphs" stroke="#ffffff" stroke-width="0.45" filter="url(#tsh)">5,7</text>
<rect x="538.5" y="305.2" width="67.0" height="18.80000000000001" fill="#0d2f38" opacity="0.55" filter="url(#blur)"/>
<rect x="537.3" y="303.5" width="65.4" height="17.20000000000001" rx="0.8" fill="url(#boxg)" stroke="#92d050" stroke-width="1.6"/>
<text x="570.0" y="315.8" font-size="13.3" fill="#ffffff" text-anchor="middle" font-weight="normal" font-style="normal" textLength="26.1" lengthAdjust="spacingAndGlyphs" stroke="#ffffff" stroke-width="0.45" filter="url(#tsh)">53,5</text>
<rect x="469" y="76.2" width="67" height="18.799999999999997" fill="#0d2f38" opacity="0.55" filter="url(#blur)"/>
<rect x="467.8" y="74.5" width="65.4" height="17.199999999999996" rx="0.8" fill="url(#boxg)" stroke="#92d050" stroke-width="1.6"/>
<text x="500.5" y="86.8" font-size="13.3" fill="#ffffff" text-anchor="middle" font-weight="normal" font-style="normal" textLength="18.4" lengthAdjust="spacingAndGlyphs" stroke="#ffffff" stroke-width="0.45" filter="url(#tsh)">2,4</text>
<rect x="559" y="392.2" width="68" height="22.80000000000001" fill="#0d2f38" opacity="0.55" filter="url(#blur)"/>
<rect x="557.8" y="390.5" width="66.4" height="21.20000000000001" rx="0.8" fill="url(#boxg)" stroke="#92d050" stroke-width="1.6"/>
<text x="591.0" y="405.3" font-size="13.3" fill="#ffffff" text-anchor="middle" font-weight="normal" font-style="normal" textLength="19.1" lengthAdjust="spacingAndGlyphs" stroke="#ffffff" stroke-width="0.45" filter="url(#tsh)">4,0</text>
<rect x="301" y="426.2" width="67" height="22.80000000000001" fill="#0d2f38" opacity="0.55" filter="url(#blur)"/>
<rect x="299.8" y="424.5" width="65.4" height="21.20000000000001" rx="0.8" fill="url(#boxg)" stroke="#92d050" stroke-width="1.6"/>
<text x="332.5" y="439.3" font-size="13.3" fill="#ffffff" text-anchor="middle" font-weight="normal" font-style="normal" textLength="17.9" lengthAdjust="spacingAndGlyphs" stroke="#ffffff" stroke-width="0.45" filter="url(#tsh)">1,3</text>
<text x="541.1" y="87" font-size="12.8" fill="#bcc5c8" text-anchor="start" font-weight="normal" font-style="normal" textLength="79.6" lengthAdjust="spacingAndGlyphs" filter="url(#tsh)">г. Нур-Султан</text>
<text x="633.8" y="405.7" font-size="12.8" fill="#bcc5c8" text-anchor="start" font-weight="normal" font-style="normal" textLength="58.6" lengthAdjust="spacingAndGlyphs" filter="url(#tsh)">г. Алматы</text>
<text x="221.3" y="439" font-size="12.8" fill="#bcc5c8" text-anchor="start" font-weight="normal" font-style="normal" textLength="69.6" lengthAdjust="spacingAndGlyphs" filter="url(#tsh)">г. Шымкент</text>
<text x="29.7" y="505.3" font-size="13.2" fill="#e6eaeb" text-anchor="start" font-weight="bold" font-style="normal" textLength="114.2" lengthAdjust="spacingAndGlyphs">Годовые данные</text>
<line x1="28.5" y1="513.8" x2="702" y2="513.8" stroke="#3a8ca2" stroke-width="1" stroke-dasharray="5,3.5"/>
<line x1="28.5" y1="540.6" x2="702" y2="540.6" stroke="#3a8ca2" stroke-width="1" stroke-dasharray="5,3.5"/>
<line x1="28.5" y1="566.6" x2="702" y2="566.6" stroke="#3a8ca2" stroke-width="1" stroke-dasharray="5,3.5"/>
<line x1="28.5" y1="593.3" x2="702" y2="593.3" stroke="#3a8ca2" stroke-width="1" stroke-dasharray="5,3.5"/>
<rect x="23.5" y="513.1999999999999" width="4" height="1.2" fill="#1b4560"/>
<rect x="23.5" y="540.0" width="4" height="1.2" fill="#1b4560"/>
<rect x="23.5" y="566.0" width="4" height="1.2" fill="#1b4560"/>
<rect x="23.5" y="592.6999999999999" width="4" height="1.2" fill="#1b4560"/>
<rect x="23.5" y="619.4" width="4" height="1.2" fill="#1b4560"/>
<rect x="77" y="563" width="42" height="57" fill="#0d2f38" opacity="0.5" filter="url(#blur)"/>
<rect x="75" y="561" width="42" height="59" fill="#92d050"/>
<rect x="211.7" y="556" width="42.30000000000001" height="64" fill="#0d2f38" opacity="0.5" filter="url(#blur)"/>
<rect x="209.7" y="554" width="42.30000000000001" height="66" fill="#92d050"/>
<rect x="346" y="552.7" width="42.19999999999999" height="67.29999999999995" fill="#0d2f38" opacity="0.5" filter="url(#blur)"/>
<rect x="344" y="550.7" width="42.19999999999999" height="69.29999999999995" fill="#92d050"/>
<rect x="481.3" y="542.4" width="41.49999999999994" height="77.60000000000002" fill="#0d2f38" opacity="0.5" filter="url(#blur)"/>
<rect x="479.3" y="540.4" width="41.49999999999994" height="79.60000000000002" fill="#92d050"/>
<rect x="615.5" y="543.5" width="42.200000000000045" height="76.5" fill="#0d2f38" opacity="0.5" filter="url(#blur)"/>
<rect x="613.5" y="541.5" width="42.200000000000045" height="78.5" fill="#92d050"/>
<rect x="28" y="619.4" width="674" height="1.4" fill="#f2f5f5"/>
<text x="96.0" y="639.5" font-size="11.5" fill="#eef1f2" text-anchor="middle" font-weight="normal" font-style="normal" textLength="25.5" lengthAdjust="spacingAndGlyphs">2016</text>
<text x="230.85" y="639.5" font-size="11.5" fill="#eef1f2" text-anchor="middle" font-weight="normal" font-style="normal" textLength="25.5" lengthAdjust="spacingAndGlyphs">2017</text>
<text x="365.1" y="639.5" font-size="11.5" fill="#eef1f2" text-anchor="middle" font-weight="normal" font-style="normal" textLength="25.5" lengthAdjust="spacingAndGlyphs">2018</text>
<text x="500.04999999999995" y="639.5" font-size="11.5" fill="#eef1f2" text-anchor="middle" font-weight="normal" font-style="normal" textLength="25.5" lengthAdjust="spacingAndGlyphs">2019</text>
<text x="634.6" y="639.5" font-size="11.5" fill="#eef1f2" text-anchor="middle" font-weight="normal" font-style="normal" textLength="25.5" lengthAdjust="spacingAndGlyphs">2020</text>
<polyline points="96.5,613.6 231.5,546.5 365.8,573.1 499.7,533.8 634.6,610" fill="none" stroke="#ffffff" stroke-width="3" filter="url(#lsh)"/>
<g filter="url(#lsh)">
<circle cx="96.5" cy="613.6" r="5.9" fill="#225a69" stroke="#ffffff" stroke-width="3.1"/>
<circle cx="231.5" cy="546.5" r="5.9" fill="#225a69" stroke="#ffffff" stroke-width="3.1"/>
<circle cx="365.8" cy="573.1" r="5.9" fill="#225a69" stroke="#ffffff" stroke-width="3.1"/>
<circle cx="499.7" cy="533.8" r="5.9" fill="#225a69" stroke="#ffffff" stroke-width="3.1"/>
<circle cx="634.6" cy="610" r="5.9" fill="#225a69" stroke="#ffffff" stroke-width="3.1"/>
</g>
<rect x="703.5" y="513.1999999999999" width="3.5" height="1.2" fill="#1b4560"/>
<rect x="703.5" y="534.3" width="3.5" height="1.2" fill="#1b4560"/>
<rect x="703.5" y="555.4" width="3.5" height="1.2" fill="#1b4560"/>
<rect x="703.5" y="576.4" width="3.5" height="1.2" fill="#1b4560"/>
<rect x="703.5" y="597.6" width="3.5" height="1.2" fill="#1b4560"/>
<rect x="703.5" y="618.6999999999999" width="3.5" height="1.2" fill="#1b4560"/>
<text x="96.9" y="608" font-size="12.2" fill="#0b1a10" text-anchor="middle" font-weight="normal" font-style="normal" textLength="30.5" lengthAdjust="spacingAndGlyphs" stroke="#0b1a10" stroke-width="0.3">220,3</text>
<text x="230.8" y="607.5" font-size="12.2" fill="#0b1a10" text-anchor="middle" font-weight="normal" font-style="normal" textLength="30.5" lengthAdjust="spacingAndGlyphs" stroke="#0b1a10" stroke-width="0.3">248,0</text>
<text x="366.1" y="607.5" font-size="12.2" fill="#0b1a10" text-anchor="middle" font-weight="normal" font-style="normal" textLength="30.5" lengthAdjust="spacingAndGlyphs" stroke="#0b1a10" stroke-width="0.3">263,5</text>
<text x="500.4" y="607.2" font-size="12.2" fill="#0b1a10" text-anchor="middle" font-weight="normal" font-style="normal" textLength="30.5" lengthAdjust="spacingAndGlyphs" stroke="#0b1a10" stroke-width="0.3">303,8</text>
<text x="634.6" y="599.5" font-size="12.2" fill="#0b1a10" text-anchor="middle" font-weight="normal" font-style="normal" textLength="30.5" lengthAdjust="spacingAndGlyphs" stroke="#0b1a10" stroke-width="0.3">295,4</text>
<text x="95.8" y="546" font-size="12.2" fill="#eef1f2" text-anchor="middle" font-weight="normal" font-style="normal" textLength="32" lengthAdjust="spacingAndGlyphs">-3,5%</text>
<text x="230.2" y="528.7" font-size="12.2" fill="#eef1f2" text-anchor="middle" font-weight="normal" font-style="normal" textLength="33" lengthAdjust="spacingAndGlyphs">12,6%</text>
<text x="365.1" y="533.5" font-size="12.2" fill="#eef1f2" text-anchor="middle" font-weight="normal" font-style="normal" textLength="27" lengthAdjust="spacingAndGlyphs">6,2%</text>
<text x="499.7" y="516.9" font-size="12.2" fill="#eef1f2" text-anchor="middle" font-weight="normal" font-style="normal" textLength="33" lengthAdjust="spacingAndGlyphs">15,3%</text>
<text x="663.1" y="607.2" font-size="12.5" fill="#eef1f2" text-anchor="start" font-weight="normal" font-style="normal" textLength="31.6" lengthAdjust="spacingAndGlyphs">-2,7%</text>
<rect x="270" y="663" width="30" height="7.3" fill="#92d050"/>
<text x="303.5" y="670.3" font-size="12.5" fill="#eef1f2" text-anchor="start" font-weight="normal" font-style="normal" textLength="34.1" lengthAdjust="spacingAndGlyphs">Всего</text>
<line x1="368.4" y1="666.4" x2="400.8" y2="666.4" stroke="#ffffff" stroke-width="3"/>
<circle cx="385.6" cy="666.4" r="4" fill="#225a69" stroke="#ffffff" stroke-width="2.5"/>
<text x="403.1" y="670.3" font-size="12.5" fill="#eef1f2" text-anchor="start" font-weight="normal" font-style="normal" textLength="66.8" lengthAdjust="spacingAndGlyphs">Рост за год</text>
<text x="16.8" y="697.5" font-size="12.5" fill="#a4d152" text-anchor="start" font-weight="normal" font-style="italic" textLength="64.8" lengthAdjust="spacingAndGlyphs" stroke="#a4d152" stroke-width="0.25">Источник:</text>
<text x="84.3" y="697.5" font-size="12.5" fill="#a4d152" text-anchor="start" font-weight="normal" font-style="italic" textLength="32.5" lengthAdjust="spacingAndGlyphs" stroke="#a4d152" stroke-width="0.25">Бюро</text>
<text x="119.5" y="697.5" font-size="12.5" fill="#a4d152" text-anchor="start" font-weight="normal" font-style="italic" textLength="84.5" lengthAdjust="spacingAndGlyphs" stroke="#a4d152" stroke-width="0.25">национальной</text>
<text x="211" y="697.5" font-size="12.5" fill="#a4d152" text-anchor="start" font-weight="normal" font-style="italic" textLength="81.6" lengthAdjust="spacingAndGlyphs" stroke="#a4d152" stroke-width="0.25">статистики</text>
<text x="294" y="697.5" font-size="12.5" fill="#a4d152" text-anchor="start" font-weight="normal" font-style="italic" textLength="37.7" lengthAdjust="spacingAndGlyphs" stroke="#a4d152" stroke-width="0.25">АСПиР</text>
<text x="334.5" y="697.5" font-size="12.5" fill="#a4d152" text-anchor="start" font-weight="normal" font-style="italic" textLength="15.5" lengthAdjust="spacingAndGlyphs" stroke="#a4d152" stroke-width="0.25">РК</text>
<path d="M622.5,686.5 L635.5,686 L634.5,688 L621.5,688.4 Z M620.8,691.6 L633.4,691.2 L632.6,692.8 L620.2,693.2 Z" fill="#9fb4ba"/>
<g fill="#f2f6f7">
<path d="M624.5,682.6 L637.4,682.3 Q636.6,684.8 635.3,686 L622.8,686.4 Q621.8,686.6 621.9,685.8 Q622.3,683 624.5,682.6 Z"/>
<path d="M623.2,688.1 L635,687.7 Q634.4,690 633.2,691.1 L621,691.6 Q620.3,691.7 620.5,690.8 Q621,688.4 623.2,688.1 Z"/>
<path d="M621.8,692.9 L634.8,692.5 Q634,695.2 631.8,696.3 L619.3,697.1 Q618.6,697.2 618.8,696.3 Q619.6,693.3 621.8,692.9 Z"/>
</g>
<linearGradient id="lg" x1="0" y1="0" x2="0" y2="1"><stop offset="0" stop-color="#ffffff"/><stop offset="1" stop-color="#c9d4d8"/></linearGradient>
<text x="639.4" y="695.9" font-size="11.8" fill="#eef3f4" text-anchor="start" font-weight="bold" font-style="italic" textLength="47.5" lengthAdjust="spacingAndGlyphs">Energy</text>
<text x="686.5" y="695.9" font-size="11.8" fill="#e3eaec" text-anchor="start" font-weight="normal" font-style="italic" textLength="31" lengthAdjust="spacingAndGlyphs">Prom</text>
</g></svg>
</body></html>
